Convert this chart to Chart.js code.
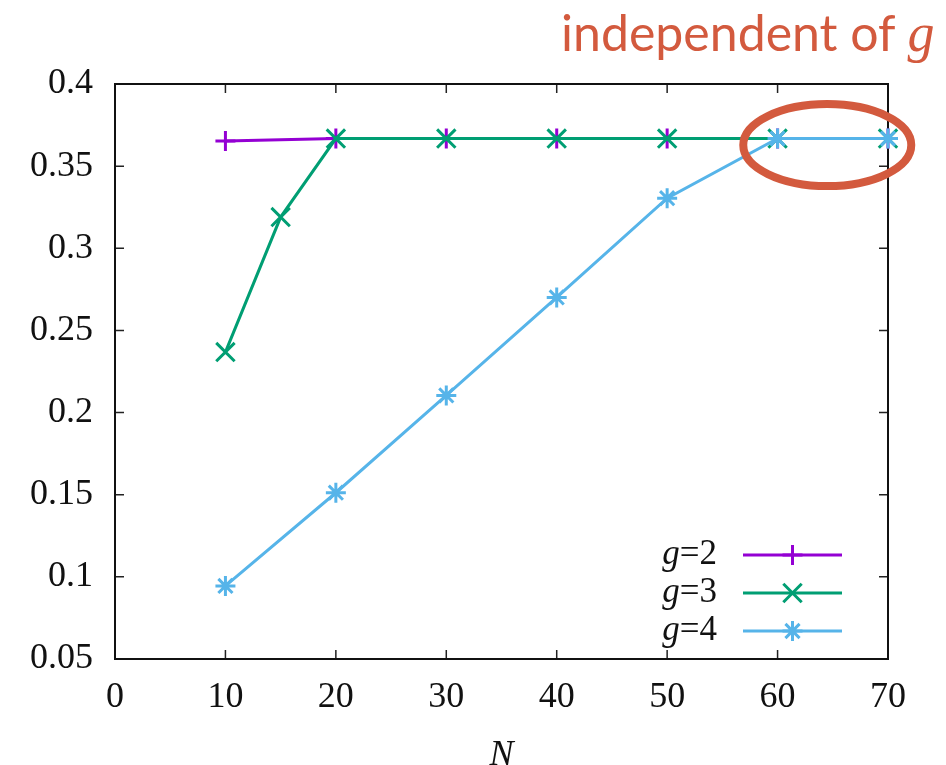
<!DOCTYPE html>
<html>
<head>
<meta charset="utf-8">
<script src="https://cdn.jsdelivr.net/npm/chart.js@4.4.0/dist/chart.umd.min.js"></script>
<style>
  html, body { margin:0; padding:0; background:#fff; }
  #wrap { position:relative; width:946px; height:765px; }
  #c { position:absolute; left:0; top:0; }
  #title { position:absolute; left:561px; top:6px; font:400 50px Lato, sans-serif; color:#d35a3e; line-height:1; white-space:nowrap; }
  #title i { font-family:"Liberation Serif", serif; font-size:54px; }
</style>
</head>
<body>
<div id="wrap">
  <canvas id="c" width="946" height="765"></canvas>
  <div id="title">independent of <i>g</i></div>
</div>
<script>
/* ── data ────────────────────────────────────────────────────────────────── */
const N_G2 = [10, 20, 30, 40, 50, 60, 70];
const Y_G2 = [0.3653, 0.3668, 0.3668, 0.3668, 0.3668, 0.3668, 0.3668];

const N_G3 = [10, 15, 20, 30, 40, 50, 60, 70];
const Y_G3 = [0.2368, 0.3190, 0.3668, 0.3668, 0.3668, 0.3668, 0.3668, 0.3668];

const N_G4 = [10, 20, 30, 40, 50, 60, 70];
const Y_G4 = [0.0945, 0.1512, 0.2104, 0.2701, 0.3305, 0.3668, 0.3668];

const G_VALUES = ["2", "3", "4"];
const X_RANGE = [0, 70, 10];
const Y_RANGE = [0.05, 0.4, 0.05];
const HIGHLIGHT = [64.5, 0.3628];   // centre of the "independent of g" ring

// gnuplot default colours
const COLORS = ["#9400d3", "#009e73", "#56b4e9"];
const STYLES = [
  { pointStyle:"cross",    radius:10 },
  { pointStyle:"crossRot", radius:13 },
  { pointStyle:"star",     radius:10 },
];
const ACCENT = "#d35a3e";
const SERIF = "'Liberation Serif', 'Times New Roman', serif";

const pts = (xs, ys) => xs.map((x, i) => ({ x, y: ys[i] }));

function ds(i, data, order) {
  return {
    label: "g=" + G_VALUES[i],
    data,
    showLine: true,
    borderColor: COLORS[i],
    backgroundColor: COLORS[i],
    borderWidth: 3,
    pointStyle: STYLES[i].pointStyle,
    pointRadius: STYLES[i].radius,
    pointHoverRadius: STYLES[i].radius,
    pointBorderWidth: 3,
    pointBorderColor: COLORS[i],
    clip: false,
    order,
  };
}

// ── frame + inward ticks on all four sides ─────────────────────────────────
const framePlugin = {
  id: "frame",
  beforeDatasetsDraw(chart) {
    const { ctx, chartArea: a, scales: { x, y } } = chart;
    const TL = 9;
    ctx.save();
    ctx.strokeStyle = "#222";
    ctx.lineWidth = 1.5;
    ctx.beginPath();
    x.ticks.forEach(t => {
      const px = x.getPixelForValue(t.value);
      ctx.moveTo(px, a.bottom); ctx.lineTo(px, a.bottom - TL);
      ctx.moveTo(px, a.top);    ctx.lineTo(px, a.top + TL);
    });
    y.ticks.forEach(t => {
      const py = y.getPixelForValue(t.value);
      ctx.moveTo(a.left, py);  ctx.lineTo(a.left + TL, py);
      ctx.moveTo(a.right, py); ctx.lineTo(a.right - TL, py);
    });
    ctx.stroke();
    ctx.lineWidth = 2;
    ctx.strokeStyle = "#111";
    ctx.strokeRect(a.left, a.top, a.right - a.left, a.bottom - a.top);
    ctx.restore();
  }
};

// ── key in the lower right + highlight ring ────────────────────────────────
const keyPlugin = {
  id: "key",
  afterDatasetsDraw(chart) {
    const { ctx, chartArea: a, scales: { x, y } } = chart;
    ctx.save();
    const textRight = a.right - 171, lineL = a.right - 145, lineR = a.right - 46;
    G_VALUES.forEach((g, i) => {
      const cy = a.bottom - 104 + i * 38;
      ctx.fillStyle = "#111";
      ctx.textBaseline = "middle";
      ctx.textAlign = "right";
      ctx.font = "35px " + SERIF;
      const rest = "=" + g;
      ctx.fillText(rest, textRight, cy);
      const w = ctx.measureText(rest).width;
      ctx.font = "italic 35px " + SERIF;
      ctx.fillText("g", textRight - w, cy);

      ctx.strokeStyle = COLORS[i];
      ctx.fillStyle = COLORS[i];
      ctx.lineWidth = 3;
      ctx.beginPath(); ctx.moveTo(lineL, cy); ctx.lineTo(lineR, cy); ctx.stroke();
      Chart.helpers.drawPoint(ctx, { pointStyle: STYLES[i].pointStyle, radius: STYLES[i].radius, borderWidth: 3, rotation: 0 }, (lineL + lineR) / 2, cy);
    });

    ctx.strokeStyle = ACCENT;
    ctx.lineWidth = 8;
    ctx.beginPath();
    ctx.ellipse(x.getPixelForValue(HIGHLIGHT[0]), y.getPixelForValue(HIGHLIGHT[1]), 84, 41, 0, 0, Math.PI * 2);
    ctx.stroke();
    ctx.restore();
  }
};

new Chart(document.getElementById("c"), {
  type: "scatter",
  data: {
    datasets: [
      ds(0, pts(N_G2, Y_G2), 3),
      ds(1, pts(N_G3, Y_G3), 2),
      ds(2, pts(N_G4, Y_G4), 1),
    ]
  },
  options: {
    responsive: false,
    devicePixelRatio: 1,
    animation: false,
    layout: { padding: { top: 84, right: 58, left: 0, bottom: 0 } },
    plugins: { legend: { display: false }, tooltip: { enabled: false } },
    scales: {
      x: {
        type: "linear",
        min: X_RANGE[0], max: X_RANGE[1],
        afterFit: s => { s.height = 106; },
        grid: { display: false, drawTicks: false },
        border: { display: false },
        ticks: { stepSize: X_RANGE[2], color: "#111", padding: 17, font: { family: SERIF, size: 36 } },
        title: { display: true, text: "N", color: "#111", padding: 0, font: { family: SERIF, size: 36, style: "italic", lineHeight: 0.5 } },
      },
      y: {
        min: Y_RANGE[0], max: Y_RANGE[1],
        afterFit: s => { s.width = 115; },
        grid: { display: false, drawTicks: false },
        border: { display: false },
        ticks: { stepSize: Y_RANGE[2], color: "#111", padding: 22, font: { family: SERIF, size: 36 },
                 callback: v => String(+v.toFixed(2)) },
      }
    }
  },
  plugins: [framePlugin, keyPlugin]
});
</script>
</body>
</html>
